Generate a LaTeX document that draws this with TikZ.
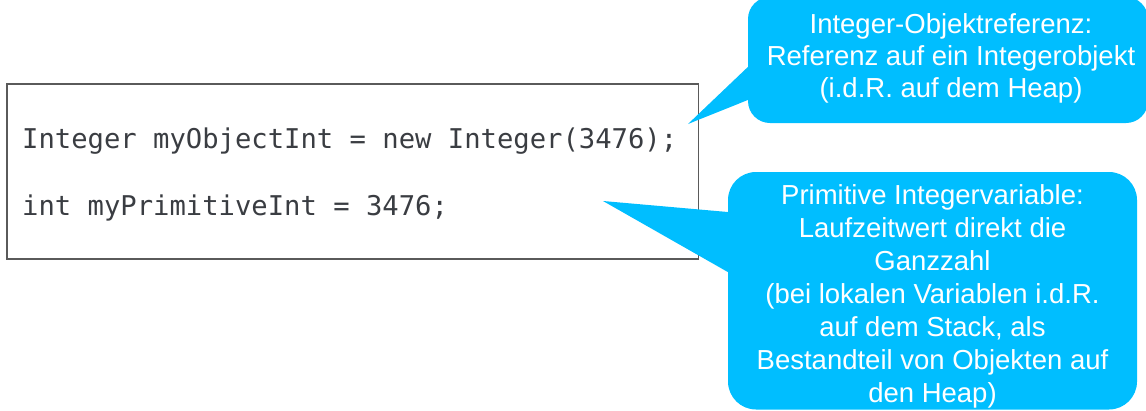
\documentclass[tikz,border=0pt]{standalone}
\usepackage{fontspec}
\setmainfont{Liberation Sans}
\setmonofont{DejaVu Sans Mono}
\usetikzlibrary{calc}
\definecolor{callblue}{RGB}{0,190,255}
\definecolor{codetext}{RGB}{58,61,66}
\definecolor{boxline}{RGB}{90,90,90}
\tikzset{
  codebox/.style={draw=boxline, line width=1.5pt, fill=white, inner sep=0pt},
  codeline/.style={anchor=base west, inner sep=0pt, text=codetext, font=\ttfamily\fontsize{27.2}{33}\selectfont},
  callshape/.style={fill=callblue, draw=none, inner sep=0pt},
  calltext/.style={anchor=base, inner sep=0pt, text=white, font=\fontsize{27.5}{33}\selectfont},
  pointer/.style={fill=callblue, draw=none}
}
\begin{document}
\begin{tikzpicture}[x=1pt,y=-1pt]
\useasboundingbox (0,0) rectangle (1146,410);
% code box
\node[codebox, minimum width=691.5pt, minimum height=175pt] (box) at (352.75,171.5) {};
\node[codeline] (l1) at (22,148) {Integer myObjectInt = new Integer(3476);};
\node[codeline] (l2) at (22,215) {int myPrimitiveInt = 3476;};
% callout 1
\node[callshape, rounded corners=22pt, minimum width=400pt, minimum height=126pt] (c1) at (948,60) {};
\coordinate (tip1) at (688,124);
\fill[pointer] (tip1) -- ($(c1.west)+(12,-4.4)$) -- ($(c1.west)+(12,35.2)$) -- cycle;
\node[calltext] (t11) at (951,33) {Integer-Objektreferenz:};
\node[calltext] (t12) at (951,65) {Referenz auf ein Integerobjekt};
\node[calltext] (t13) at (951,97) {(i.d.R. auf dem Heap)};
% callout 2
\node[callshape, rounded corners=28pt, minimum width=409pt, minimum height=237.5pt] (c2) at (932.5,290.75) {};
\coordinate (tip2) at (603,201);
\fill[pointer] (tip2) -- ($(c2.west)+(17,-77.25)$) -- ($(c2.west)+(17,-9.05)$) -- cycle;
\node[calltext] (t21) at (932.5,204) {Primitive Integervariable:};
\node[calltext] (t22) at (932.5,237) {Laufzeitwert direkt die};
\node[calltext] (t23) at (932.5,270) {Ganzzahl};
\node[calltext] (t24) at (932.5,303) {(bei lokalen Variablen i.d.R.};
\node[calltext] (t25) at (932.5,336) {auf dem Stack, als};
\node[calltext] (t26) at (932.5,369) {Bestandteil von Objekten auf};
\node[calltext] (t27) at (932.5,402) {den Heap)};
\end{tikzpicture}
\end{document}
